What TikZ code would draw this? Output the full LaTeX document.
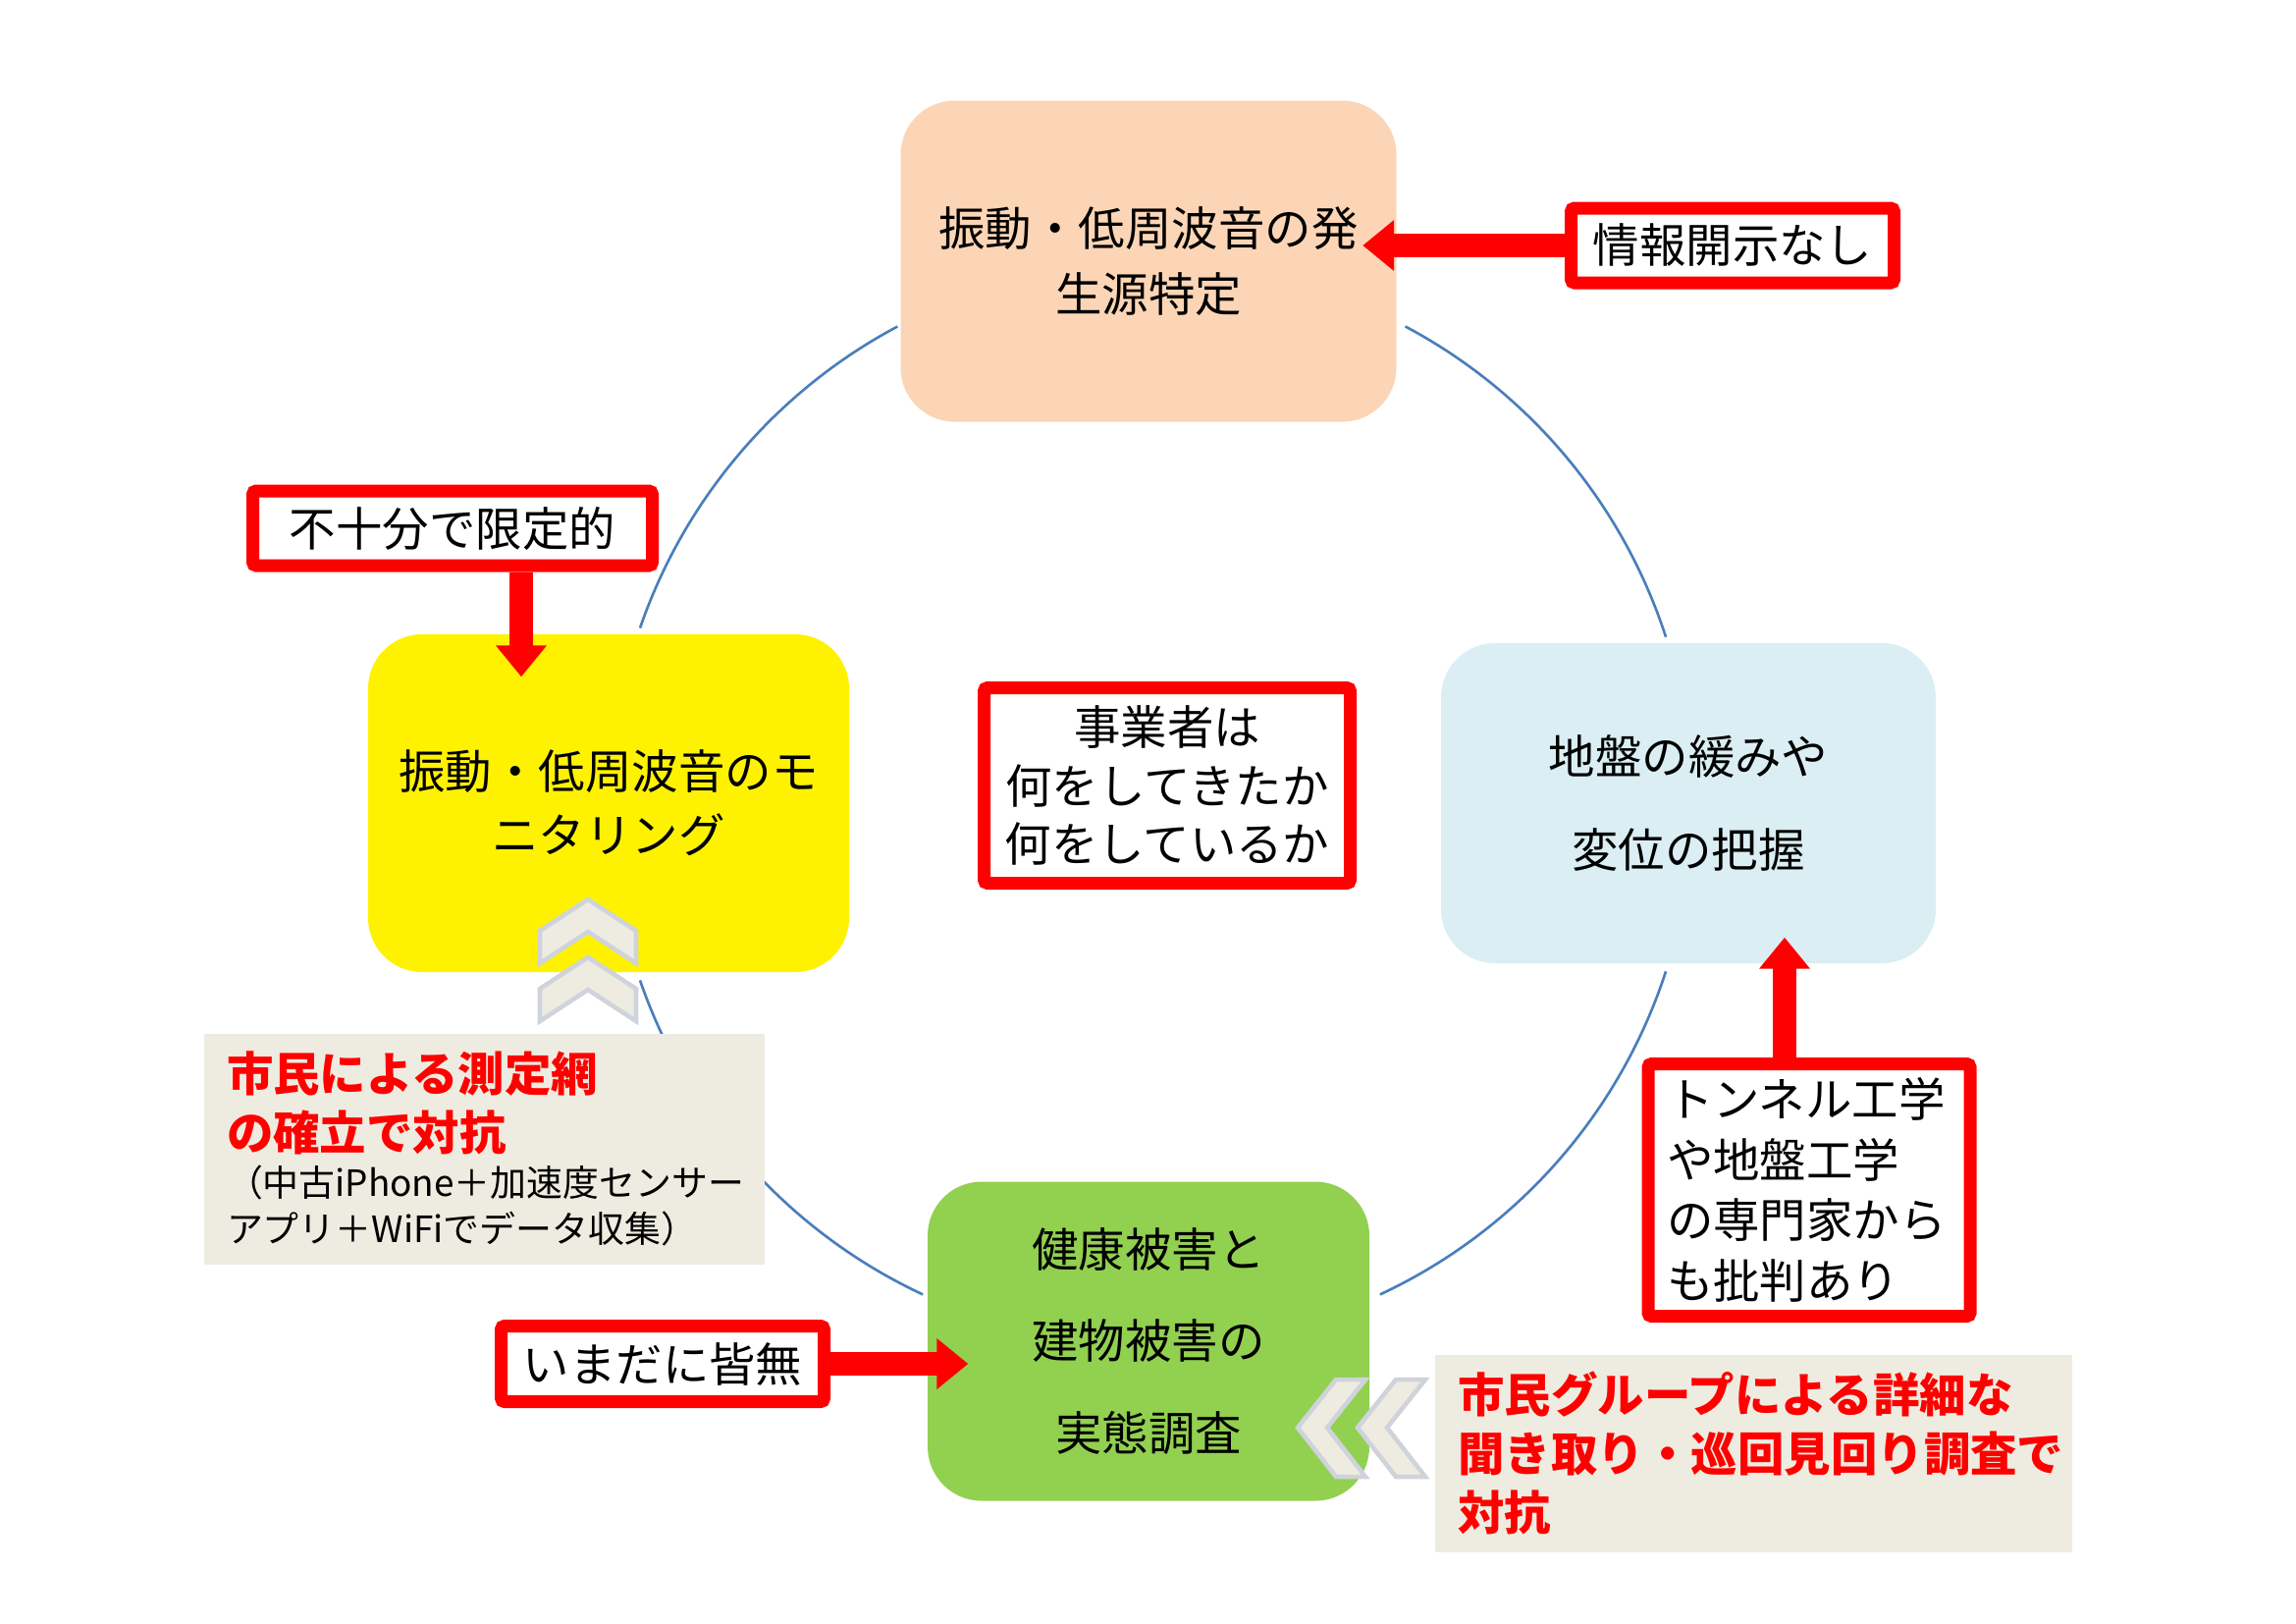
\documentclass[tikz,border=0pt]{standalone}
\usepackage{fontspec}
\setmainfont{Noto Sans CJK JP}
\usetikzlibrary{arrows.meta}
\definecolor{peach}{HTML}{FBD5B5}
\definecolor{skyblue}{HTML}{DAEEF3}
\definecolor{leafgreen}{HTML}{92D050}
\definecolor{notegray}{HTML}{EEECE1}
\definecolor{ringblue}{HTML}{4A7EBB}
\definecolor{chevgray}{HTML}{CFD3DB}
\begin{document}
\begin{tikzpicture}[
	cyclebox/.style={rounded corners=0.55cm, inner sep=0pt, align=center, font=\fontsize{13.5}{19}\selectfont},
	redbox/.style={draw=red, line width=0.13cm, fill=white, rounded corners=1pt, inner sep=0pt, align=center, font=\fontsize{13.5}{17}\selectfont},
	notebox/.style={fill=notegray, inner sep=0pt, align=left},
	bigarrow/.style={red, line width=0.24cm, -{Triangle[length=0.32cm,width=0.5cm]}},
	ring/.style={ringblue, line width=0.75pt},
	chev/.style={fill=notegray, draw=chevgray, line width=1.3pt}]
	\useasboundingbox (0,0) rectangle (23.39,-16.53);
	% ring behind the four steps
	\coordinate (C) at (11.73,-8.19);
	\draw[ring] ([shift={(62:5.51)}]C) arc[start angle=62, end angle=18, radius=5.51];
	\draw[ring] ([shift={(-18:5.51)}]C) arc[start angle=-18, end angle=-65, radius=5.51];
	\draw[ring] ([shift={(-115:5.51)}]C) arc[start angle=-115, end angle=-161, radius=5.51];
	\draw[ring] ([shift={(161:5.51)}]C) arc[start angle=161, end angle=118, radius=5.51];
	% the four steps
	\node[cyclebox, fill=peach, minimum width=5.05cm, minimum height=3.27cm] (S) at (11.70,-2.66) {振動・低周波音の発\\生源特定};
	\node[cyclebox, fill=skyblue, minimum width=5.04cm, minimum height=3.26cm, font=\fontsize{13.5}{27}\selectfont] (G) at (17.20,-8.18) {地盤の緩みや\\変位の把握};
	\node[cyclebox, fill=leafgreen, minimum width=4.50cm, minimum height=3.25cm, font=\fontsize{13.5}{26.5}\selectfont] (H) at (11.70,-13.66) {健康被害と\\建物被害の\\実態調査};
	\node[cyclebox, fill=yellow, minimum width=4.90cm, minimum height=3.44cm, font=\fontsize{13.5}{18.5}\selectfont] (M) at (6.20,-8.18) {振動・低周波音のモ\\ニタリング};
	% red remarks
	\node[redbox, minimum width=3.29cm, minimum height=0.76cm] (I) at (17.65,-2.50) {情報開示なし};
	\node[redbox, minimum width=4.07cm, minimum height=0.76cm] (L) at (4.61,-5.38) {不十分で限定的};
	\node[redbox, minimum width=3.73cm, minimum height=1.99cm] (Q) at (11.89,-8.00) {事業者は\\何をしてきたか\\何をしているか};
	\node[redbox, minimum width=3.28cm, minimum height=2.57cm, text width=2.9cm, align=left, font=\fontsize{13.5}{17.5}\selectfont] (T) at (18.43,-12.12) {トンネル工学\\や地盤工学\\の専門家から\\も批判あり};
	\node[redbox, minimum width=3.29cm, minimum height=0.77cm] (N) at (6.75,-13.89) {いまだに皆無};
	\draw[bigarrow, shorten >=-0.35cm] (I.west) -- (I.west -| S.east);
	\draw[bigarrow, shorten >=-0.44cm] ([xshift=0.7cm]L.south) -- ([xshift=0.7cm]L.south |- M.north);
	\draw[bigarrow, shorten >=-0.27cm] ([xshift=-0.25cm]T.north) -- ([xshift=-0.25cm]T.north |- G.south);
	\draw[bigarrow, shorten >=-0.42cm] (N.east) -- (N.east -| H.west);
	% citizens' counter actions
	\node[notebox, minimum width=5.71cm, minimum height=2.35cm, text width=5.25cm] (P) at (4.935,-11.70) {{\color{red}\bfseries\fontsize{13.5}{17}\selectfont 市民による測定網\\の確立で対抗\par}{\fontsize{10.5}{13.4}\selectfont （中古iPhone＋加速度センサー\\アプリ＋WiFiでデータ収集）\par}};
	\node[notebox, minimum width=6.49cm, minimum height=2.01cm, text width=6.01cm, text=red, font=\bfseries\fontsize{13.5}{17}\selectfont] (R) at (17.86,-14.80) {市民グループによる詳細な\\聞き取り・巡回見回り調査で\\対抗};
	% chevrons
	\draw[chev] (5.99,-9.16) -- (6.48,-9.48) -- (6.48,-9.81) -- (5.99,-9.49) -- (5.50,-9.81) -- (5.50,-9.48) -- cycle;
	\draw[chev] (5.99,-9.75) -- (6.48,-10.07) -- (6.48,-10.40) -- (5.99,-10.08) -- (5.50,-10.40) -- (5.50,-10.07) -- cycle;
	\draw[chev] (13.22,-14.54) -- (13.61,-14.05) -- (13.91,-14.05) -- (13.52,-14.54) -- (13.91,-15.04) -- (13.61,-15.04) -- cycle;
	\draw[chev] (13.83,-14.54) -- (14.22,-14.05) -- (14.52,-14.05) -- (14.13,-14.54) -- (14.52,-15.04) -- (14.22,-15.04) -- cycle;
\end{tikzpicture}
\end{document}
